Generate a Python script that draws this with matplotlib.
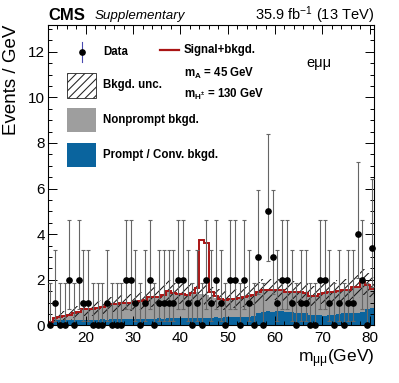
import numpy as np
import matplotlib.pyplot as plt
from matplotlib.patches import Rectangle
from matplotlib.lines import Line2D
from matplotlib.ticker import MultipleLocator

plt.rcParams['font.family'] = ['Liberation Sans', 'DejaVu Sans']
plt.rcParams['mathtext.fontset'] = 'custom'
plt.rcParams['mathtext.rm'] = 'Liberation Sans'
plt.rcParams['mathtext.it'] = 'Liberation Sans:italic'
plt.rcParams['mathtext.bf'] = 'Liberation Sans:bold'
plt.rcParams['hatch.linewidth'] = 0.75
plt.rcParams['hatch.color'] = '#151515'

# ------------------------------------------------------------------
# values (1 GeV bins, 12-81 GeV)
# ------------------------------------------------------------------
bin_lo, bin_hi = 12, 81

data = [0, 1, 0, 0, 2, 0, 2, 1, 1, 0,
        0, 0, 1, 0, 0, 0, 2, 2, 1, 0,
        1, 2, 0, 1, 1, 1, 1, 2, 2, 1,
        0, 1, 0, 2, 1, 2, 1, 0, 2, 2,
        0, 2, 1, 0, 3, 0, 5, 3, 1, 2,
        2, 1, 0, 1, 1, 0, 0, 2, 2, 1,
        0, 1, 0, 1, 1, 4, 2, 0, 3.4]

prompt = [0.20, 0.22, 0.22, 0.23, 0.22, 0.24, 0.25, 0.24, 0.25, 0.25,
          0.25, 0.26, 0.25, 0.26, 0.27, 0.26, 0.27, 0.28, 0.27, 0.28,
          0.28, 0.29, 0.28, 0.30, 0.29, 0.30, 0.30, 0.31, 0.30, 0.32,
          0.31, 0.33, 0.32, 0.33, 0.34, 0.35, 0.34, 0.36, 0.35, 0.36,
          0.36, 0.37, 0.36, 0.40, 0.52, 0.58, 0.62, 0.60, 0.63, 0.61,
          0.60, 0.58, 0.56, 0.55, 0.52, 0.46, 0.44, 0.45, 0.43, 0.44,
          0.46, 0.50, 0.55, 0.54, 0.56, 0.55, 0.58, 0.70, 0.74]

total_bkg = [0.15, 0.30, 0.38, 0.42, 0.47, 0.55, 0.60, 0.70, 0.72, 0.73,
             0.75, 0.80, 0.88, 0.92, 0.95, 0.98, 1.00, 1.00, 1.03, 1.08,
             1.12, 1.22, 1.25, 1.22, 1.32, 1.52, 1.42, 1.38, 1.36, 1.35,
             1.42, 1.45, 1.38, 1.32, 1.26, 1.20, 1.17, 1.10, 1.15, 1.17,
             1.18, 1.23, 1.27, 1.35, 1.45, 1.55, 1.56, 1.57, 1.56, 1.55,
             1.48, 1.46, 1.46, 1.45, 1.42, 1.30, 1.28, 1.38, 1.42, 1.45,
             1.45, 1.50, 1.53, 1.55, 1.66, 1.70, 1.90, 1.75, 1.60]

bkg_unc = [0.10, 0.15, 0.18, 0.20, 0.22, 0.24, 0.26, 0.28, 0.29, 0.30,
           0.30, 0.32, 0.33, 0.34, 0.35, 0.36, 0.37, 0.37, 0.38, 0.39,
           0.40, 0.42, 0.43, 0.42, 0.44, 0.46, 0.45, 0.44, 0.44, 0.44,
           0.45, 0.46, 0.45, 0.44, 0.43, 0.42, 0.42, 0.41, 0.42, 0.42,
           0.42, 0.43, 0.44, 0.45, 0.46, 0.48, 0.48, 0.48, 0.48, 0.48,
           0.47, 0.47, 0.47, 0.47, 0.46, 0.44, 0.44, 0.45, 0.46, 0.46,
           0.46, 0.47, 0.48, 0.49, 0.51, 0.52, 0.55, 0.53, 0.51]

# signal (m_A = 45 GeV) on top of the background
sig_centers = [43.5, 44.5, 45.5, 46.5, 47.5]
sig_values = [0.20, 2.37, 2.28, 0.20, 0.09]

# Poisson (Garwood) error bars: value -> (down, up)
poisson_err = {0: (0.0, 1.84), 1: (0.83, 2.30), 2: (1.29, 2.64),
               3: (1.63, 2.92), 4: (1.91, 3.16), 5: (2.16, 3.38),
               3.4: (1.70, 3.00)}

# ------------------------------------------------------------------
edges = np.arange(bin_lo, bin_hi + 1)
centers = edges[:-1] + 0.5
prompt = np.array(prompt)
total_bkg = np.array(total_bkg)
bkg_unc = np.array(bkg_unc)
signal = np.zeros(len(centers))
signal[np.searchsorted(centers, sig_centers)] = sig_values
err_lo = [poisson_err[v][0] for v in data]
err_hi = [poisson_err[v][1] for v in data]

blue = '#0a649e'
grey = '#9e9e9e'
red = '#aa1414'

fig = plt.figure(figsize=(3.99, 3.83), dpi=100)
ax = fig.add_axes([48 / 399, 1 - 325.3 / 383, 326.3 / 399, 300.8 / 383])

ax.stairs(prompt, edges, fill=True, color=blue, lw=0)
ax.stairs(total_bkg, edges, baseline=prompt, fill=True, color=grey, lw=0)
ax.stairs(total_bkg + bkg_unc, edges, baseline=total_bkg - bkg_unc, fill=True,
          facecolor='none', edgecolor='#151515', hatch='////', lw=0)
ax.stairs(total_bkg + signal, edges, baseline=None, color=red, lw=1.4)

eb = ax.errorbar(centers, data, yerr=[err_lo, err_hi], fmt='o', color='black',
                 ms=3.8, ecolor='#666666', elinewidth=0.8, capsize=1.2,
                 capthick=0.8, zorder=5)
eb[0].set_clip_on(False)

ax.set_xlim(bin_lo, bin_hi)
ax.set_ylim(0, 13.2)
ax.xaxis.set_major_locator(MultipleLocator(10))
ax.xaxis.set_minor_locator(MultipleLocator(2))
ax.yaxis.set_major_locator(MultipleLocator(2))
ax.yaxis.set_minor_locator(MultipleLocator(0.5))
ax.tick_params(which='both', direction='in', top=True, right=True, width=0.7,
               labelsize=11)
ax.tick_params(which='major', length=6.5)
ax.tick_params(which='minor', length=3.2)
ax.tick_params(axis='y', pad=2)
ax.tick_params(axis='x', pad=4)
for s in ax.spines.values():
    s.set_linewidth(0.8)

ax.set_ylabel('Events / GeV', fontsize=13.5, loc='top')
ax.yaxis.set_label_coords(-0.085, 1.0)
ax.set_xlabel(r'm$_{\mathrm{μμ}}$(GeV)', fontsize=12.5, loc='right')
ax.xaxis.set_label_coords(1.0, -0.072)

# header
fig.text(48 / 399, 1 - 19.5 / 383, 'CMS', weight='bold', size=12, va='baseline')
fig.text(95 / 399, 1 - 19.5 / 383, 'Supplementary', style='italic', size=9.6,
         va='baseline')
fig.text(374 / 399, 1 - 19.5 / 383, r'35.9 fb$^{-1}$ (13 TeV)', ha='right',
         size=10.5, va='baseline')


# legend, drawn by hand in figure pixels
def fx(px):
    return px / 399


def fy(py):
    return 1 - py / 383


def box(y0, y1, **kw):
    fig.add_artist(Rectangle((fx(67), fy(y1)), fx(96) - fx(67), fy(y0) - fy(y1),
                             transform=fig.transFigure, **kw))


fig.add_artist(Line2D([fx(82), fx(82)], [fy(41.5), fy(62)], color='#4a4ab0',
                      lw=0.8, transform=fig.transFigure))
fig.add_artist(Line2D([fx(82)], [fy(52)], marker='o', ms=3.8, color='black',
                      transform=fig.transFigure))
box(73, 98, facecolor='white', edgecolor='#222222', hatch='////', lw=0.6)
box(108, 131.5, facecolor=grey, edgecolor='none')
box(142.5, 166.5, facecolor=blue, edgecolor='none')

leg_kw = dict(transform=fig.transFigure, va='center', weight='bold', size=8.3)
fig.text(fx(103), fy(52), 'Data', **leg_kw)
fig.text(fx(103), fy(85), 'Bkgd. unc.', **leg_kw)
fig.text(fx(103), fy(120), 'Nonprompt bkgd.', **leg_kw)
fig.text(fx(103), fy(155), 'Prompt / Conv. bkgd.', **leg_kw)

fig.add_artist(Line2D([fx(160), fx(179)], [fy(50), fy(50)], color=red, lw=1.6,
                      transform=fig.transFigure))
fig.text(fx(184), fy(50), 'Signal+bkgd.', **leg_kw)
fig.text(fx(184), fy(73), r'm$_{\mathbf{A}}$ = 45 GeV', **leg_kw)
fig.text(fx(184), fy(94), r'm$_{\mathbf{H^{\pm}}}$ = 130 GeV', **leg_kw)

fig.text(fx(319), fy(63), 'eμμ', ha='center', va='center', size=10.5)

fig.savefig('out.png', dpi=100)
